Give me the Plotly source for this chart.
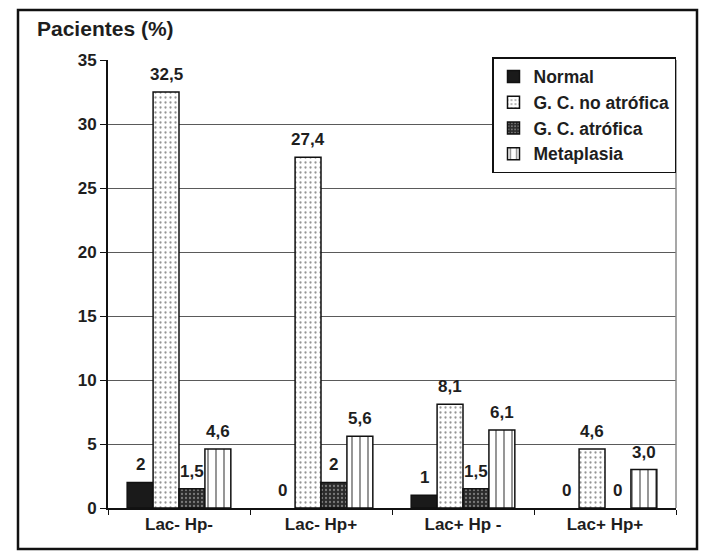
import plotly.graph_objects as go

categories = ["Lac- Hp-", "Lac- Hp+", "Lac+ Hp -", "Lac+ Hp+"]
series_names = ["Normal", "G. C. no atrófica", "G. C. atrófica", "Metaplasia"]
normal = [2, 0, 1, 0]
no_atrofica = [32.5, 27.4, 8.1, 4.6]
atrofica = [1.5, 2, 1.5, 0]
metaplasia = [4.6, 5.6, 6.1, 3.0]
label_normal = ["2", "0", "1", "0"]
label_no_atrofica = ["32,5", "27,4", "8,1", "4,6"]
label_atrofica = ["1,5", "2", "1,5", "0"]
label_metaplasia = ["4,6", "5,6", "6,1", "3,0"]
y_ticks = [0, 5, 10, 15, 20, 25, 30, 35]

values = [normal, no_atrofica, atrofica, metaplasia]
labels = [label_normal, label_no_atrofica, label_atrofica, label_metaplasia]

FONT = "Liberation Sans, Arial, sans-serif"
TXT = "#1e1e1e"

# figure-coordinate plot area (page body adds an 8px offset)
L, R, T, B = 100, 668, 52, 500
W, H = 715, 551
PW, PH = R - L, B - T

patterns = [
    dict(shape=""),
    dict(shape=".", bgcolor="white", fgcolor="#2a2a2a", size=5, solidity=0.16),
    dict(shape=".", bgcolor="#2b2b2b", fgcolor="#c8c8c8", size=4, solidity=0.25),
    dict(shape="|", bgcolor="white", fgcolor="#111111", size=8, solidity=0.22),
]
colors = ["#1a1a1a", "white", "#2b2b2b", "white"]

fig = go.Figure()
for k, (name, vals, pat, col) in enumerate(zip(series_names, values, patterns, colors)):
    fig.add_trace(go.Bar(
        x=categories, y=vals, name=f"<b>{name}</b>", legendgroup=f"g{k}",
        marker=dict(color=col, pattern=pat,
                    line=dict(color="#111111", width=[1.5 if v > 0 else 0 for v in vals])),
    ))

bargap = 0.27
n = len(series_names)
bw = (1 - bargap) / n
annotations = []
for i, labs in enumerate(labels):
    for j, (lab, v) in enumerate(zip(labs, values[i])):
        annotations.append(dict(
            x=j + (i - (n - 1) / 2) * bw, y=v, xref="x", yref="y",
            text=f"<b>{lab}</b>", showarrow=False,
            yanchor="bottom", yshift=6,
            font=dict(family=FONT, size=17, color=TXT),
        ))

fig.update_layout(
    width=W, height=H,
    margin=dict(l=L, r=W - R, t=T, b=H - B, autoexpand=False),
    paper_bgcolor="white", plot_bgcolor="white",
    barmode="group", bargap=bargap, bargroupgap=0,
    font=dict(family=FONT, size=17, color=TXT),
    title=dict(text="<b>Pacientes (%)</b>", x=29 / W, xanchor="left",
               y=1 - 21 / H, yanchor="middle",
               font=dict(family=FONT, size=21, color=TXT)),
    legend=dict(
        x=(484 - L) / PW, y=(B - 49) / PH, xanchor="left", yanchor="top",
        bgcolor="white", bordercolor="#111111", borderwidth=1.5,
        font=dict(family=FONT, size=17.5, color=TXT),
        itemwidth=30, tracegroupgap=0,
    ),
    annotations=annotations,
    showlegend=True,
)

fig.update_xaxes(
    type="category", showline=True, linecolor="#111111", linewidth=2,
    ticks="outside", tickson="boundaries", ticklen=5, tickcolor="#111111",
    tickfont=dict(family=FONT, size=17, color=TXT), tickprefix="<b>", ticksuffix="</b>",
    showgrid=False, range=[-0.5, 3.5],
)
fig.update_yaxes(
    range=[0, 35], tickvals=y_ticks, ticktext=[f"<b>{v}</b>" for v in y_ticks],
    showline=True, linecolor="#111111", linewidth=2,
    ticks="outside", ticklen=6, tickcolor="#111111",
    tickfont=dict(family=FONT, size=17, color=TXT),
    showgrid=True, gridcolor="#5a5a5a", gridwidth=1, zeroline=False,
)

fig.add_shape(type="line", xref="paper", yref="paper", x0=1, x1=1, y0=0, y1=1,
              line=dict(color="#8a8a8a", width=1.5))
fig.add_shape(type="rect", xref="paper", yref="paper",
              x0=(10 - L) / PW, x1=(689 - L) / PW,
              y0=(B - 541) / PH, y1=(B - 2) / PH,
              line=dict(color="#111111", width=2.5), fillcolor="rgba(0,0,0,0)")

fig.write_html("out.html")
